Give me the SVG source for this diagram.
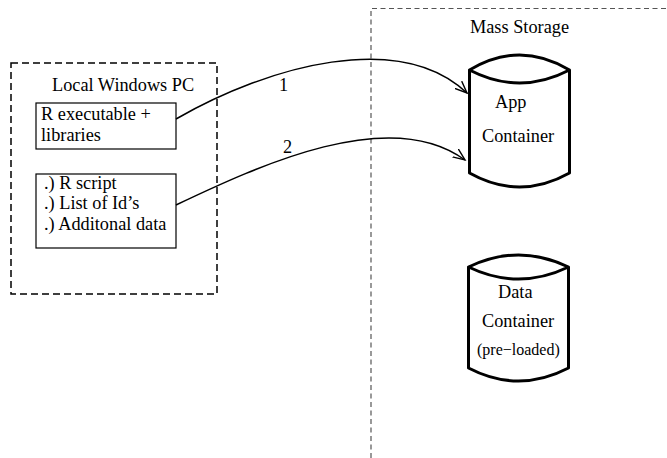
<svg xmlns="http://www.w3.org/2000/svg" width="667" height="458" viewBox="0 0 667 458">
<style>
text{font-family:"Liberation Serif","Times New Roman",serif;fill:#000}
.t{font-size:18.3px}
.s{font-size:16px}
.box{fill:#fff;stroke:#000;stroke-width:1.2}
.cyl{fill:#fff;stroke:#000;stroke-width:3;stroke-linejoin:round}
.conn{fill:none;stroke:#000;stroke-width:1.5}
</style>
<defs>
<marker id="arr" markerUnits="userSpaceOnUse" markerWidth="14" markerHeight="12" refX="12" refY="5" orient="auto" viewBox="0 0 14 10">
<path d="M0,0 L12,5 L0,10" fill="none" stroke="#000" stroke-width="1.4"/>
</marker>
</defs>
<rect width="667" height="458" fill="#fff"/>
<g id="mass-storage">
<path d="M371,458 L371,8.5 L667,8.5" fill="none" stroke="#555" stroke-width="1.2" stroke-dasharray="5,3.5"/>
<text class="t" x="470" y="33">Mass Storage</text>
</g>
<g id="local-pc">
<rect x="11" y="63" width="206" height="231" fill="none" stroke="#000" stroke-width="1.5" stroke-dasharray="7,4"/>
<text class="t" x="52" y="91">Local Windows PC</text>
</g>
<g id="r-exec">
<rect class="box" x="36" y="103" width="140" height="46"/>
<text class="t" x="41" y="120">R executable +</text>
<text class="t" x="41" y="141">libraries</text>
</g>
<g id="r-script">
<rect class="box" x="36" y="174" width="140" height="74"/>
<text class="t" x="44" y="189">.) R script</text>
<text class="t" x="44" y="209">.) List of Id’s</text>
<text class="t" x="44" y="230">.) Additonal data</text>
</g>
<g id="app-container">
<path class="cyl" d="M469.5,70 L469.5,173 Q519.5,201 569.5,173 L569.5,70 Q519.5,40 469.5,70 Q519.5,96 569.5,70"/>
<text class="t" x="495" y="108">App</text>
<text class="t" x="482" y="141.5">Container</text>
</g>
<g id="data-container">
<path class="cyl" d="M468.5,267 L468.5,368 Q518.5,394 568.5,368 L568.5,267 Q518.5,243 468.5,267 Q518.5,291 568.5,267"/>
<text class="t" x="498" y="298">Data</text>
<text class="t" x="482" y="327">Container</text>
<text class="s" x="477" y="355">(pre−loaded)</text>
</g>
<g id="connectors">
<path class="conn" d="M176,119 C270,65 400,30 467,93" marker-end="url(#arr)"/>
<path class="conn" d="M176,205 C260,165 390,105 465,160" marker-end="url(#arr)"/>
<text class="t" x="279" y="91">1</text>
<text class="t" x="283" y="153">2</text>
</g>
</svg>
